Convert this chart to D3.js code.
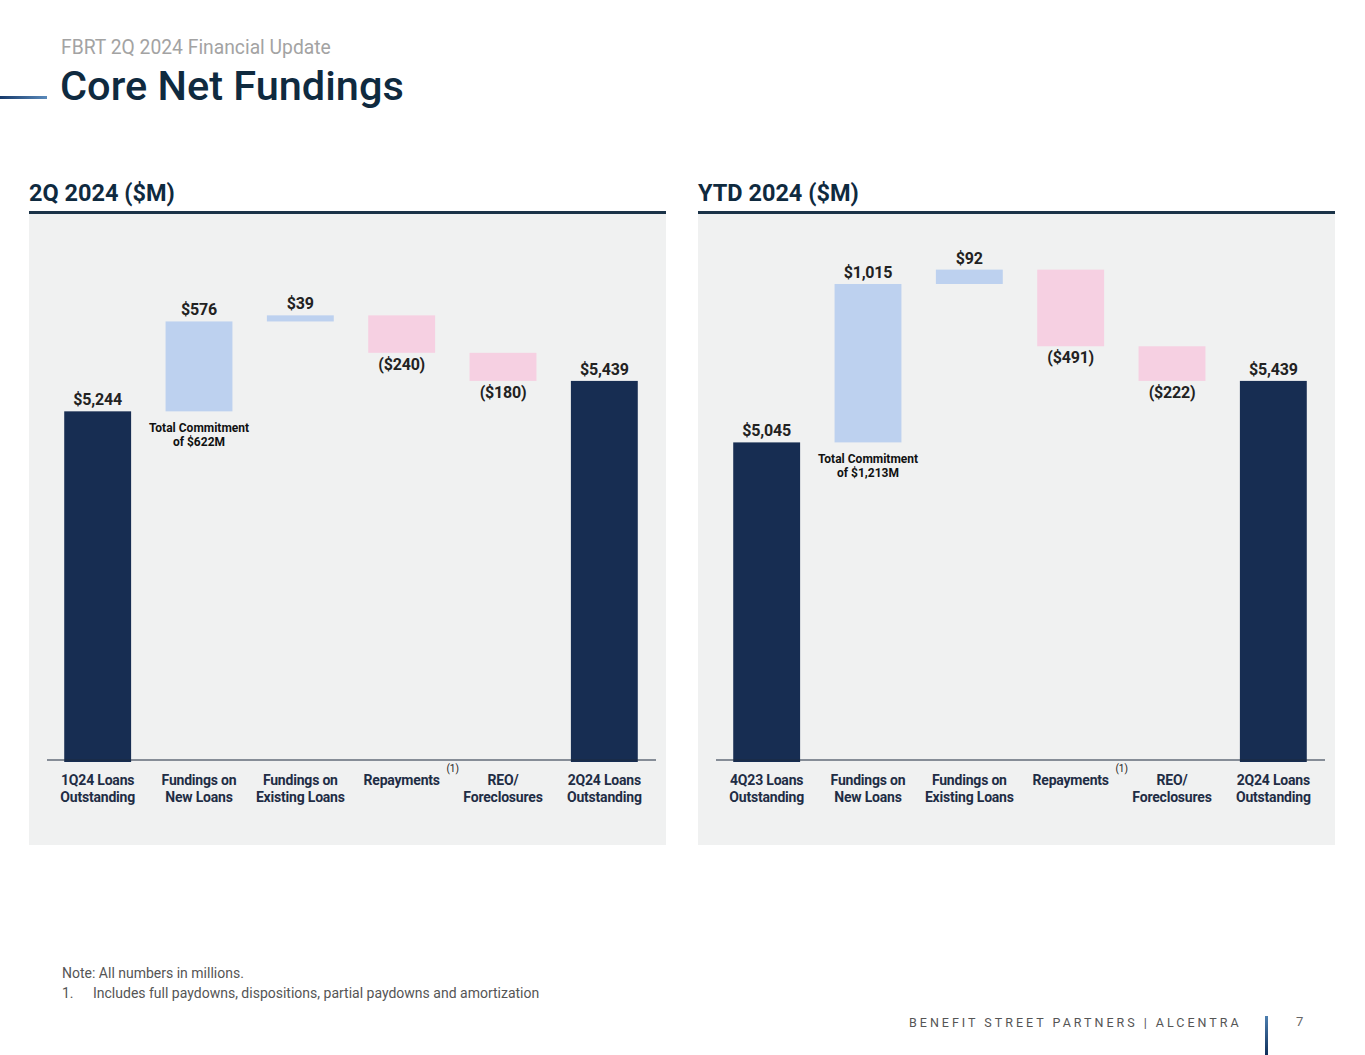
<!DOCTYPE html>
<html>
<head>
<meta charset="utf-8">
<script src="https://cdn.jsdelivr.net/npm/d3@7"></script>
<style>
  html, body { margin: 0; padding: 0; background: #fff; }
  svg { display: block; font-family: Roboto, "Noto Sans", sans-serif; }
</style>
</head>
<body>
<svg id="page" width="1365" height="1055"></svg>
<script>
//* Data
const q2Categories = ["1Q24 Loans|Outstanding", "Fundings on|New Loans", "Fundings on|Existing Loans", "Repayments", "REO/|Foreclosures", "2Q24 Loans|Outstanding"];
const ytdCategories = ["4Q23 Loans|Outstanding", "Fundings on|New Loans", "Fundings on|Existing Loans", "Repayments", "REO/|Foreclosures", "2Q24 Loans|Outstanding"];
const barKinds = ["total", "up", "up", "down", "down", "total"];
const q2Values = [5244, 576, 39, -240, -180, 5439];
const ytdValues = [5045, 1015, 92, -491, -222, 5439];
const q2Commitment = ["Total Commitment", "of $622M"];
const ytdCommitment = ["Total Commitment", "of $1,213M"];
const footnoteCategory = "Repayments";

const colors = { total: "#172d52", up: "#bdd1ef", down: "#f6d0e2" };
const navy = "#0f2a3f";

const svg = d3.select("#page");

//* Header
const defs = svg.append("defs");
const g1 = defs.append("linearGradient").attr("id", "hdrGrad");
g1.append("stop").attr("offset", "0%").attr("stop-color", "#173a6b");
g1.append("stop").attr("offset", "100%").attr("stop-color", "#5a8abb");
const g2 = defs.append("linearGradient").attr("id", "footGrad")
  .attr("x1", 0).attr("x2", 0).attr("y1", 0).attr("y2", 1);
g2.append("stop").attr("offset", "0%").attr("stop-color", "#4d7fb0");
g2.append("stop").attr("offset", "100%").attr("stop-color", "#0f2f5a");

svg.append("text")
  .attr("x", 61).attr("y", 54)
  .attr("font-size", 19.3).attr("fill", "#a3a3a3")
  .text("FBRT 2Q 2024 Financial Update");

svg.append("text")
  .attr("x", 60).attr("y", 100)
  .attr("font-size", 41.5).attr("font-weight", 500).attr("fill", navy)
  .text("Core Net Fundings");

svg.append("rect")
  .attr("x", 0).attr("y", 96).attr("width", 47).attr("height", 3)
  .attr("fill", "url(#hdrGrad)");

//* Waterfall panel
function renderWaterfall(left, title, categories, values, commitment) {
  const panelW = 637;
  const baseY = 760;

  const g = svg.append("g").attr("transform", `translate(${left}, 0)`);

  g.append("text")
    .attr("x", 0).attr("y", 201)
    .attr("font-size", 23.5).attr("font-weight", 700).attr("fill", navy)
    .text(title);

  g.append("rect")
    .attr("x", 0).attr("y", 214).attr("width", panelW).attr("height", 631)
    .attr("fill", "#f0f1f1");

  g.append("rect")
    .attr("x", 0).attr("y", 211).attr("width", panelW).attr("height", 3)
    .attr("fill", "#1b3348");

  // running totals
  let run = 0;
  const bars = values.map((v, i) => {
    let lo, hi;
    if (barKinds[i] === "total") {
      lo = null; hi = v; run = v;
    } else {
      const start = run;
      run = run + v;
      lo = Math.min(start, run); hi = Math.max(start, run);
    }
    return { cat: categories[i], kind: barKinds[i], value: v, lo, hi };
  });

  const x = d3.scaleBand()
    .domain(categories)
    .range([18, 626])
    .paddingInner(0.34)
    .paddingOuter(0.17);

  const y = d3.scaleLinear()
    .domain([3010, 6470])
    .range([baseY, 220]);

  g.selectAll(".bar")
    .data(bars)
    .enter()
    .append("rect")
    .attr("class", "bar")
    .attr("x", d => x(d.cat))
    .attr("width", x.bandwidth())
    .attr("y", d => y(d.hi))
    .attr("height", d => (d.lo === null ? baseY + 2 : y(d.lo)) - y(d.hi))
    .attr("fill", d => colors[d.kind]);

  // baseline
  g.append("line")
    .attr("x1", 18).attr("x2", 627)
    .attr("y1", baseY).attr("y2", baseY)
    .attr("stroke", "#1c2b3f").attr("stroke-width", 1.2);

  const fmt = d3.format(",");
  g.selectAll(".label")
    .data(bars)
    .enter()
    .append("text")
    .attr("class", "label")
    .attr("x", d => x(d.cat) + x.bandwidth() / 2)
    .attr("y", d => d.kind === "down" ? y(d.lo) + 17 : y(d.hi) - 6)
    .attr("text-anchor", "middle")
    .attr("font-size", 16).attr("font-weight", 700)
    .attr("letter-spacing", -0.2)
    .attr("fill", "#222")
    .text(d => d.value < 0 ? `($${fmt(-d.value)})` : `$${fmt(d.value)}`);

  // commitment note under new loans bar
  const nb = bars[1];
  g.append("text")
    .attr("x", x(nb.cat) + x.bandwidth() / 2)
    .attr("y", y(nb.lo) + 21)
    .attr("text-anchor", "middle")
    .attr("font-size", 12).attr("font-weight", 700).attr("fill", "#111")
    .selectAll("tspan")
    .data(commitment)
    .enter()
    .append("tspan")
    .attr("x", x(nb.cat) + x.bandwidth() / 2)
    .attr("dy", (d, i) => i === 0 ? 0 : 14)
    .text(d => d);

  // category axis labels
  const xAxis = g.append("g").attr("class", "xAxis");
  categories.forEach(c => {
    const cx = x(c) + x.bandwidth() / 2;
    const t = xAxis.append("text")
      .attr("x", cx).attr("y", baseY + 25)
      .attr("text-anchor", "middle")
      .attr("font-size", 14).attr("font-weight", 700)
      .attr("letter-spacing", -0.2)
      .attr("fill", "#1f2d45");
    c.split("|").forEach((line, i) => {
      t.append("tspan").attr("x", cx).attr("dy", i === 0 ? 0 : 17).text(line);
    });
    if (c === footnoteCategory) {
      xAxis.append("text")
        .attr("x", cx + 51).attr("y", baseY + 12)
        .attr("text-anchor", "middle")
        .attr("font-size", 10).attr("fill", "#222")
        .text("(1)");
    }
  });
}

renderWaterfall(29, "2Q 2024 ($M)", q2Categories, q2Values, q2Commitment);
renderWaterfall(698, "YTD 2024 ($M)", ytdCategories, ytdValues, ytdCommitment);

//* Footer
svg.append("text")
  .attr("x", 62).attr("y", 978)
  .attr("font-size", 14).attr("fill", "#555")
  .text("Note: All numbers in millions.");
svg.append("text")
  .attr("x", 62).attr("y", 998)
  .attr("font-size", 14).attr("fill", "#555")
  .text("1.");
svg.append("text")
  .attr("x", 93).attr("y", 998)
  .attr("font-size", 14).attr("fill", "#555")
  .text("Includes full paydowns, dispositions, partial paydowns and amortization");

svg.append("text")
  .attr("x", 909).attr("y", 1027)
  .attr("font-size", 12.5).attr("fill", "#555")
  .attr("letter-spacing", 3.0)
  .text("BENEFIT STREET PARTNERS | ALCENTRA");

svg.append("rect")
  .attr("x", 1265).attr("y", 1016).attr("width", 3).attr("height", 39)
  .attr("fill", "url(#footGrad)");

svg.append("text")
  .attr("x", 1296).attr("y", 1026)
  .attr("font-size", 13).attr("fill", "#666")
  .text("7");
</script>
</body>
</html>
